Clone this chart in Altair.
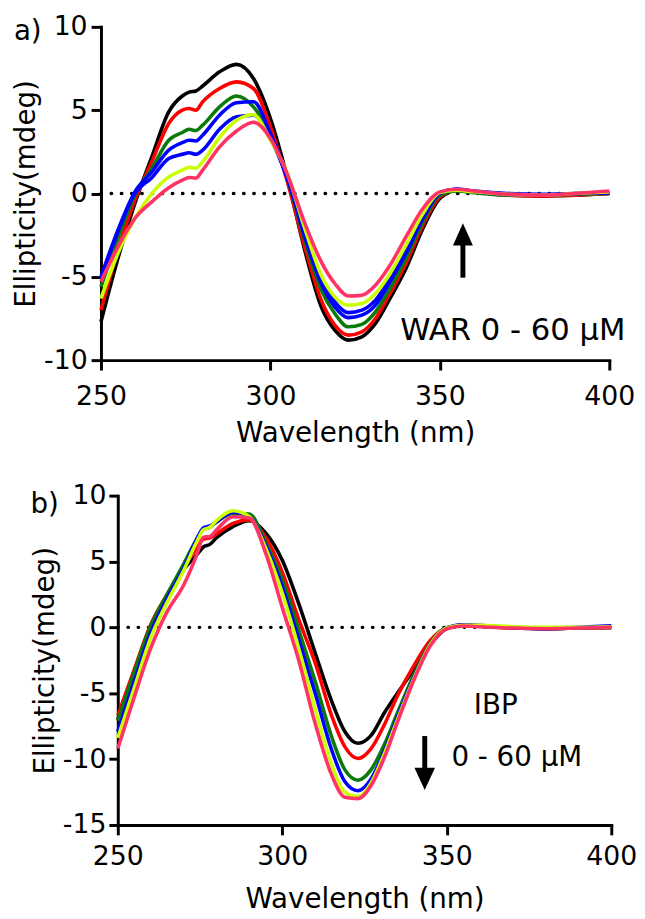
import altair as alt
import pandas as pd

FONT = "DejaVu Sans"

# ---------------- data ----------------
wl = [250, 255, 260, 265, 270, 274, 276, 278, 280, 285, 290, 295, 300, 305, 310,
      315, 319, 323, 327, 331, 335, 340, 345, 350, 355, 360, 370, 380, 390, 400]

series_names = ["0 μM", "10 μM", "20 μM", "30 μM", "40 μM", "50 μM", "60 μM"]

# panel a) WAR titration
war_black = [-7.7, -3.9, -0.6, 2.2, 4.9, 5.85, 6.08, 6.15, 6.45, 7.3, 7.75, 6.9, 4.5, 0.95, -3.3,
             -6.8, -8.2, -8.8, -8.6, -7.8, -6.4, -4.5, -2.1, -0.3, 0.2, 0.1, -0.1, -0.15, -0.1, 0.0]
war_red = [-7.0, -3.4, -0.4, 1.9, 4.2, 5.0, 5.1, 5.0, 5.5, 6.3, 6.7, 6.3, 4.0, 0.7, -3.1,
           -6.4, -7.9, -8.5, -8.3, -7.5, -6.1, -4.2, -1.9, -0.2, 0.2, 0.1, -0.1, -0.15, -0.1, 0.0]
war_green = [-5.6, -2.7, -0.1, 1.5, 3.2, 3.66, 3.85, 3.78, 4.1, 5.2, 5.85, 5.2, 3.5, 0.9, -2.7,
             -5.8, -7.2, -8.0, -7.85, -7.1, -5.8, -3.9, -1.7, -0.1, 0.15, 0.05, -0.1, -0.1, -0.05, 0.0]
war_blue1 = [-5.0, -2.2, 0.1, 1.3, 2.6, 3.05, 3.2, 3.15, 3.5, 4.7, 5.45, 5.5, 3.6, 1.0, -2.5,
             -5.4, -6.8, -7.45, -7.3, -6.7, -5.4, -3.6, -1.5, 0.0, 0.25, 0.1, -0.05, -0.1, 0.0, 0.05]
war_blue2 = [-5.1, -2.3, 0.0, 0.95, 2.1, 2.35, 2.45, 2.35, 2.6, 3.86, 4.6, 4.7, 3.3, 0.9, -2.3,
             -5.1, -6.5, -7.15, -7.0, -6.4, -5.2, -3.4, -1.4, 0.05, 0.25, 0.15, 0.0, -0.05, 0.0, 0.05]
war_yellow = [-6.3, -3.6, -1.5, 0.0, 1.0, 1.4, 1.57, 1.52, 1.9, 3.37, 4.4, 4.72, 3.2, 1.2, -2.0,
              -4.9, -6.2, -6.7, -6.6, -6.0, -4.9, -3.1, -1.2, 0.05, 0.2, 0.1, -0.05, -0.1, 0.0, 0.1]
war_pink = [-5.3, -3.2, -1.5, -0.5, 0.35, 0.8, 0.96, 0.92, 1.4, 2.8, 3.75, 4.28, 3.3, 1.15, -1.7,
            -4.1, -5.4, -6.15, -6.1, -5.5, -4.4, -2.6, -0.9, 0.1, 0.25, 0.15, -0.05, -0.1, 0.0, 0.15]

# panel b) IBP titration
ibp_black = [-7.0, -3.4, 0.0, 2.4, 4.4, 5.5, 6.1, 6.3, 6.8, 7.65, 8.1, 7.15, 5.1, 1.8, -1.95,
             -5.6, -7.9, -8.8, -8.2, -6.5, -5.0, -3.2, -1.3, -0.1, 0.18, 0.1, -0.05, -0.1, -0.05, 0.0]
ibp_red = [-6.7, -3.2, 0.2, 2.5, 4.6, 6.0, 6.7, 6.8, 7.1, 7.9, 8.15, 6.8, 4.2, 0.6, -2.7,
           -6.7, -9.05, -9.95, -9.2, -7.4, -5.2, -2.9, -1.0, -0.05, 0.15, 0.1, 0.0, -0.1, -0.05, 0.0]
ibp_green = [-7.1, -3.4, 0.1, 2.5, 4.8, 6.7, 7.45, 7.6, 8.0, 8.65, 8.6, 6.4, 3.6, -0.2, -4.1,
             -8.3, -10.8, -11.6, -10.8, -8.9, -6.5, -3.6, -1.2, 0.0, 0.15, 0.1, 0.0, -0.1, -0.05, 0.0]
ibp_blue = [-7.9, -4.1, -0.4, 2.2, 4.5, 6.7, 7.55, 7.7, 8.0, 8.75, 8.4, 6.2, 3.1, -0.9, -5.0,
            -9.3, -11.7, -12.4, -11.5, -9.4, -6.8, -3.8, -1.3, -0.05, 0.2, 0.15, 0.0, -0.1, 0.0, 0.12]
ibp_yellow = [-8.4, -4.6, -0.8, 1.9, 4.3, 6.5, 7.4, 7.6, 8.1, 8.85, 8.4, 6.0, 2.6, -1.6, -6.2,
              -10.4, -12.5, -12.85, -11.8, -9.6, -7.0, -3.9, -1.3, -0.05, 0.15, 0.15, 0.05, 0.0, 0.0, 0.05]
ibp_pink = [-9.2, -5.3, -1.6, 1.2, 3.2, 5.5, 6.85, 6.9, 7.4, 8.4, 8.3, 5.6, 1.5, -2.5, -7.3,
            -11.2, -12.9, -13.0, -12.0, -9.9, -7.2, -4.0, -1.4, -0.1, 0.1, 0.05, -0.05, -0.1, -0.05, 0.0]

war_series = [war_black, war_red, war_green, war_blue1, war_blue2, war_yellow, war_pink]
war_colors = ["#000000", "#ff0000", "#0a7a0a", "#0000ff", "#0000ff", "#ccff00", "#ff3366"]
ibp_series = [ibp_black, ibp_red, ibp_green, ibp_blue, ibp_yellow, ibp_pink]
ibp_colors = ["#000000", "#ff0000", "#0a7a0a", "#0000ff", "#ccff00", "#ff3366"]

x_ticks = [250, 300, 350, 400]
ya_ticks = [-10, -5, 0, 5, 10]
yb_ticks = [-15, -10, -5, 0, 5, 10]

war_label = "WAR 0 - 60 μM"
ibp_label1 = "IBP"
ibp_label2 = "0 - 60 μM"


def axis_common(**kw):
    base = dict(grid=False, tickSize=10, tickWidth=3, domainWidth=3, domainCap="square",
                domainColor="black", tickColor="black", labelFont=FONT, labelFontSize=27,
                labelColor="black", titleFont=FONT, titleFontSize=28, titleFontWeight="normal",
                titleColor="black", labelOverlap=False)
    base.update(kw)
    return alt.Axis(**base)


def panel(series, colors, xscale, yscale, xaxis, yaxis, arrow, arrow_up, texts, letter, letter_xy,
          width, height):
    def X(f):
        return alt.X(f, scale=xscale, axis=xaxis)

    def Y(f):
        return alt.Y(f, scale=yscale, axis=yaxis)

    zero = alt.Chart(pd.DataFrame({"x0": [250], "x1": [400], "y0": [0]})).mark_rule(
        color="black", strokeWidth=3.4, strokeDash=[0.5, 9.8], strokeCap="round"
    ).encode(x=X("x0:Q"), x2="x1:Q", y=Y("y0:Q"))
    layers = [zero]
    for vals, col in zip(series, colors):
        df = pd.DataFrame({"wl": wl, "mdeg": vals})
        layers.append(
            alt.Chart(df).mark_line(color=col, strokeWidth=3.6, interpolate="monotone",
                                    strokeJoin="round").encode(x=X("wl:Q"), y=Y("mdeg:Q"))
        )
    ax, ay_tail, ay_end, ay_head = arrow
    shaft = alt.Chart(pd.DataFrame({"x": [ax], "y": [ay_tail], "y2": [ay_end]})).mark_rule(
        color="black", strokeWidth=5
    ).encode(x=X("x:Q"), y=Y("y:Q"), y2="y2:Q")
    path = "M-0.9,1L0,-1L0.9,1Z" if arrow_up else "M-0.93,-1L0.93,-1L0,1Z"
    head = alt.Chart(pd.DataFrame({"x": [ax], "y": [ay_head]})).mark_point(
        shape=path, filled=True, size=500, color="black", opacity=1, strokeWidth=0
    ).encode(x=X("x:Q"), y=Y("y:Q"))
    layers += [shaft, head]
    for tx, ty, t, fs in texts:
        layers.append(
            alt.Chart(pd.DataFrame({"x": [tx], "y": [ty], "t": [t]})).mark_text(
                align="left", baseline="middle", font=FONT, fontSize=fs, color="black"
            ).encode(x=X("x:Q"), y=Y("y:Q"), text="t:N")
        )
    layers.append(
        alt.Chart(pd.DataFrame({"t": [letter]})).mark_text(
            align="center", baseline="middle", font=FONT, fontSize=28, color="black"
        ).encode(x=alt.value(letter_xy[0]), y=alt.value(letter_xy[1]), text="t:N")
    )
    return alt.layer(*layers).properties(width=width, height=height)


# panel a
xa_scale = alt.Scale(domain=[250, 400], nice=False, zero=False)
ya_scale = alt.Scale(domain=[-10, 10], nice=False, zero=False)
xa_axis = axis_common(values=x_ticks, format="d", title="Wavelength (nm)", labelFlush=False,
                      labelPadding=14, titlePadding=10)
ya_axis = axis_common(values=ya_ticks, labelExpr="'' + datum.value", title="Ellipticity(mdeg)",
                      labelPadding=4, titlePadding=3)
chart_a = panel(war_series, war_colors, xa_scale, ya_scale, xa_axis, ya_axis,
                (356.8, -5.05, -3.0, -2.45), True,
                [(338.3, -8.25, war_label, 31)], "a)", (-74, 5), 514, 337)

# panel b
xb_scale = alt.Scale(domain=[250, 400], nice=False, zero=False, range=[17, 516])
yb_scale = alt.Scale(domain=[-15, 10], nice=False, zero=False)
xb_axis = axis_common(values=x_ticks, format="d", title="Wavelength (nm)", labelFlush=False,
                      labelPadding=9, titlePadding=16)
yb_axis = axis_common(values=yb_ticks, labelExpr="'' + datum.value", title="Ellipticity(mdeg)",
                      labelPadding=3, titlePadding=3, offset=-17, tickSize=9)
chart_b = panel(ibp_series, ibp_colors, xb_scale, yb_scale, xb_axis, yb_axis,
                (343.3, -8.25, -10.9, -11.5), False,
                [(358.2, -6.0, ibp_label1, 28), (351.4, -9.9, ibp_label2, 28)],
                "b)", (-57, 10), 516, 333)

chart = alt.vconcat(chart_a, chart_b, spacing=35).properties(
    padding={"top": 0, "left": 4, "right": 0, "bottom": 0}
).configure_view(strokeOpacity=0)

chart.save("out.html", embed_options={"renderer": "svg", "actions": False})
